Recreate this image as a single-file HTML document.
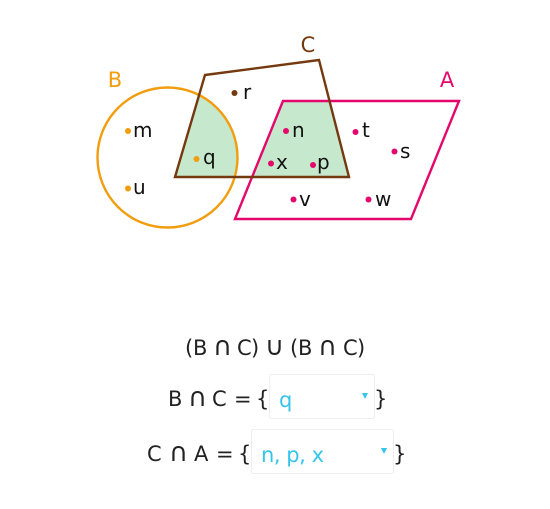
<!DOCTYPE html>
<html>
<head>
<meta charset="utf-8">
<style>
html,body{margin:0;padding:0;background:#fff;}
#stage{position:relative;width:550px;height:509px;overflow:hidden;font-family:"DejaVu Sans",sans-serif;}
svg{position:absolute;left:0;top:0;}
.t{font-family:"DejaVu Sans",sans-serif;font-size:21px;fill:#222;}
.op{font-size:26px;}
.lbl{font-family:"DejaVu Sans",sans-serif;font-size:20px;fill:#111;}
.set{font-family:"DejaVu Sans",sans-serif;font-size:21px;}
.ans{font-family:"DejaVu Sans",sans-serif;font-size:21px;fill:#36c5ea;}
</style>
</head>
<body>
<div id="stage">
<svg width="550" height="509" viewBox="0 0 550 509">
  <defs>
    <clipPath id="clip-b"><circle cx="167.5" cy="157.5" r="70"/></clipPath>
    <clipPath id="clip-a"><polygon points="283,101 459,101 411,219 235,219"/></clipPath>
  </defs>
  <polygon points="205,75 319,60 349,177 175,177" fill="#c6e8cc" clip-path="url(#clip-b)"/>
  <polygon points="205,75 319,60 349,177 175,177" fill="#c6e8cc" clip-path="url(#clip-a)"/>
  <circle cx="167.5" cy="157.5" r="70" fill="none" stroke="#f29d0e" stroke-width="2.4"/>
  <polygon points="283,101 459,101 411,219 235,219" fill="none" stroke="#e5086c" stroke-width="2.4"/>
  <polygon points="205,75 319,60 349,177 175,177" fill="none" stroke="#75390f" stroke-width="2.4"/>

  <text class="set" x="115" y="87" text-anchor="middle" fill="#f29d0e">B</text>
  <text class="set" x="308" y="52" text-anchor="middle" fill="#75390f">C</text>
  <text class="set" x="447" y="87" text-anchor="middle" fill="#e5086c">A</text>

  <g>
    <circle cx="128" cy="131" r="3" fill="#f29d0e"/>
    <text class="lbl" x="133" y="137">m</text>
    <circle cx="128" cy="188.500" r="3" fill="#f29d0e"/>
    <text class="lbl" x="133" y="194">u</text>
    <circle cx="196.500" cy="159" r="3" fill="#f29d0e"/>
    <text class="lbl" x="203" y="164">q</text>
  </g>
  <g>
    <circle cx="234.500" cy="93" r="3" fill="#75390f"/>
    <text class="lbl" x="243" y="99">r</text>
  </g>
  <g>
    <circle cx="286" cy="131" r="3" fill="#e5086c"/>
    <text class="lbl" x="292" y="137">n</text>
    <circle cx="271" cy="163.500" r="3" fill="#e5086c"/>
    <text class="lbl" x="276" y="169">x</text>
    <circle cx="313" cy="165" r="3" fill="#e5086c"/>
    <text class="lbl" x="317" y="169">p</text>
    <circle cx="355.500" cy="132" r="3" fill="#e5086c"/>
    <text class="lbl" x="362" y="137">t</text>
    <circle cx="394.500" cy="151.500" r="3" fill="#e5086c"/>
    <text class="lbl" x="400" y="158">s</text>
    <circle cx="293.500" cy="199.500" r="3" fill="#e5086c"/>
    <text class="lbl" x="299" y="206">v</text>
    <circle cx="368.500" cy="199.500" r="3" fill="#e5086c"/>
    <text class="lbl" x="375" y="206">w</text>
  </g>

  <text class="t" y="355"><tspan x="185">(</tspan><tspan x="193">B</tspan><tspan class="op" x="213">∩</tspan><tspan x="237">C</tspan><tspan x="251">)</tspan><tspan class="op" x="265">∪</tspan><tspan x="290">(</tspan><tspan x="298">B</tspan><tspan class="op" x="318">∩</tspan><tspan x="343">C</tspan><tspan x="357">)</tspan></text>

  <text class="t" y="406"><tspan x="168">B</tspan><tspan class="op" x="188">∩</tspan><tspan x="212">C</tspan><tspan x="234">=</tspan><tspan x="256">{</tspan></text>
  <g>
    <rect x="269.500" y="374.500" width="105" height="44" rx="2" fill="#fff" stroke="#eeeeee"/>
    <text class="ans" x="279" y="407">q</text>
    <polygon points="362,393 368,393 365,399" fill="#36c5ea"/>
  </g>
  <text class="t" x="374" y="406">}</text>

  <text class="t" y="461"><tspan x="147">C</tspan><tspan class="op" x="169">∩</tspan><tspan x="194">A</tspan><tspan x="216">=</tspan><tspan x="238">{</tspan></text>
  <g>
    <rect x="251.500" y="429.500" width="142" height="44" rx="2" fill="#fff" stroke="#eeeeee"/>
    <text class="ans" x="261" y="462" textLength="63" lengthAdjust="spacing">n, p, x</text>
    <polygon points="381,448 387,448 384,454" fill="#36c5ea"/>
  </g>
  <text class="t" x="393" y="461">}</text>
</svg>
</div>
</body>
</html>
